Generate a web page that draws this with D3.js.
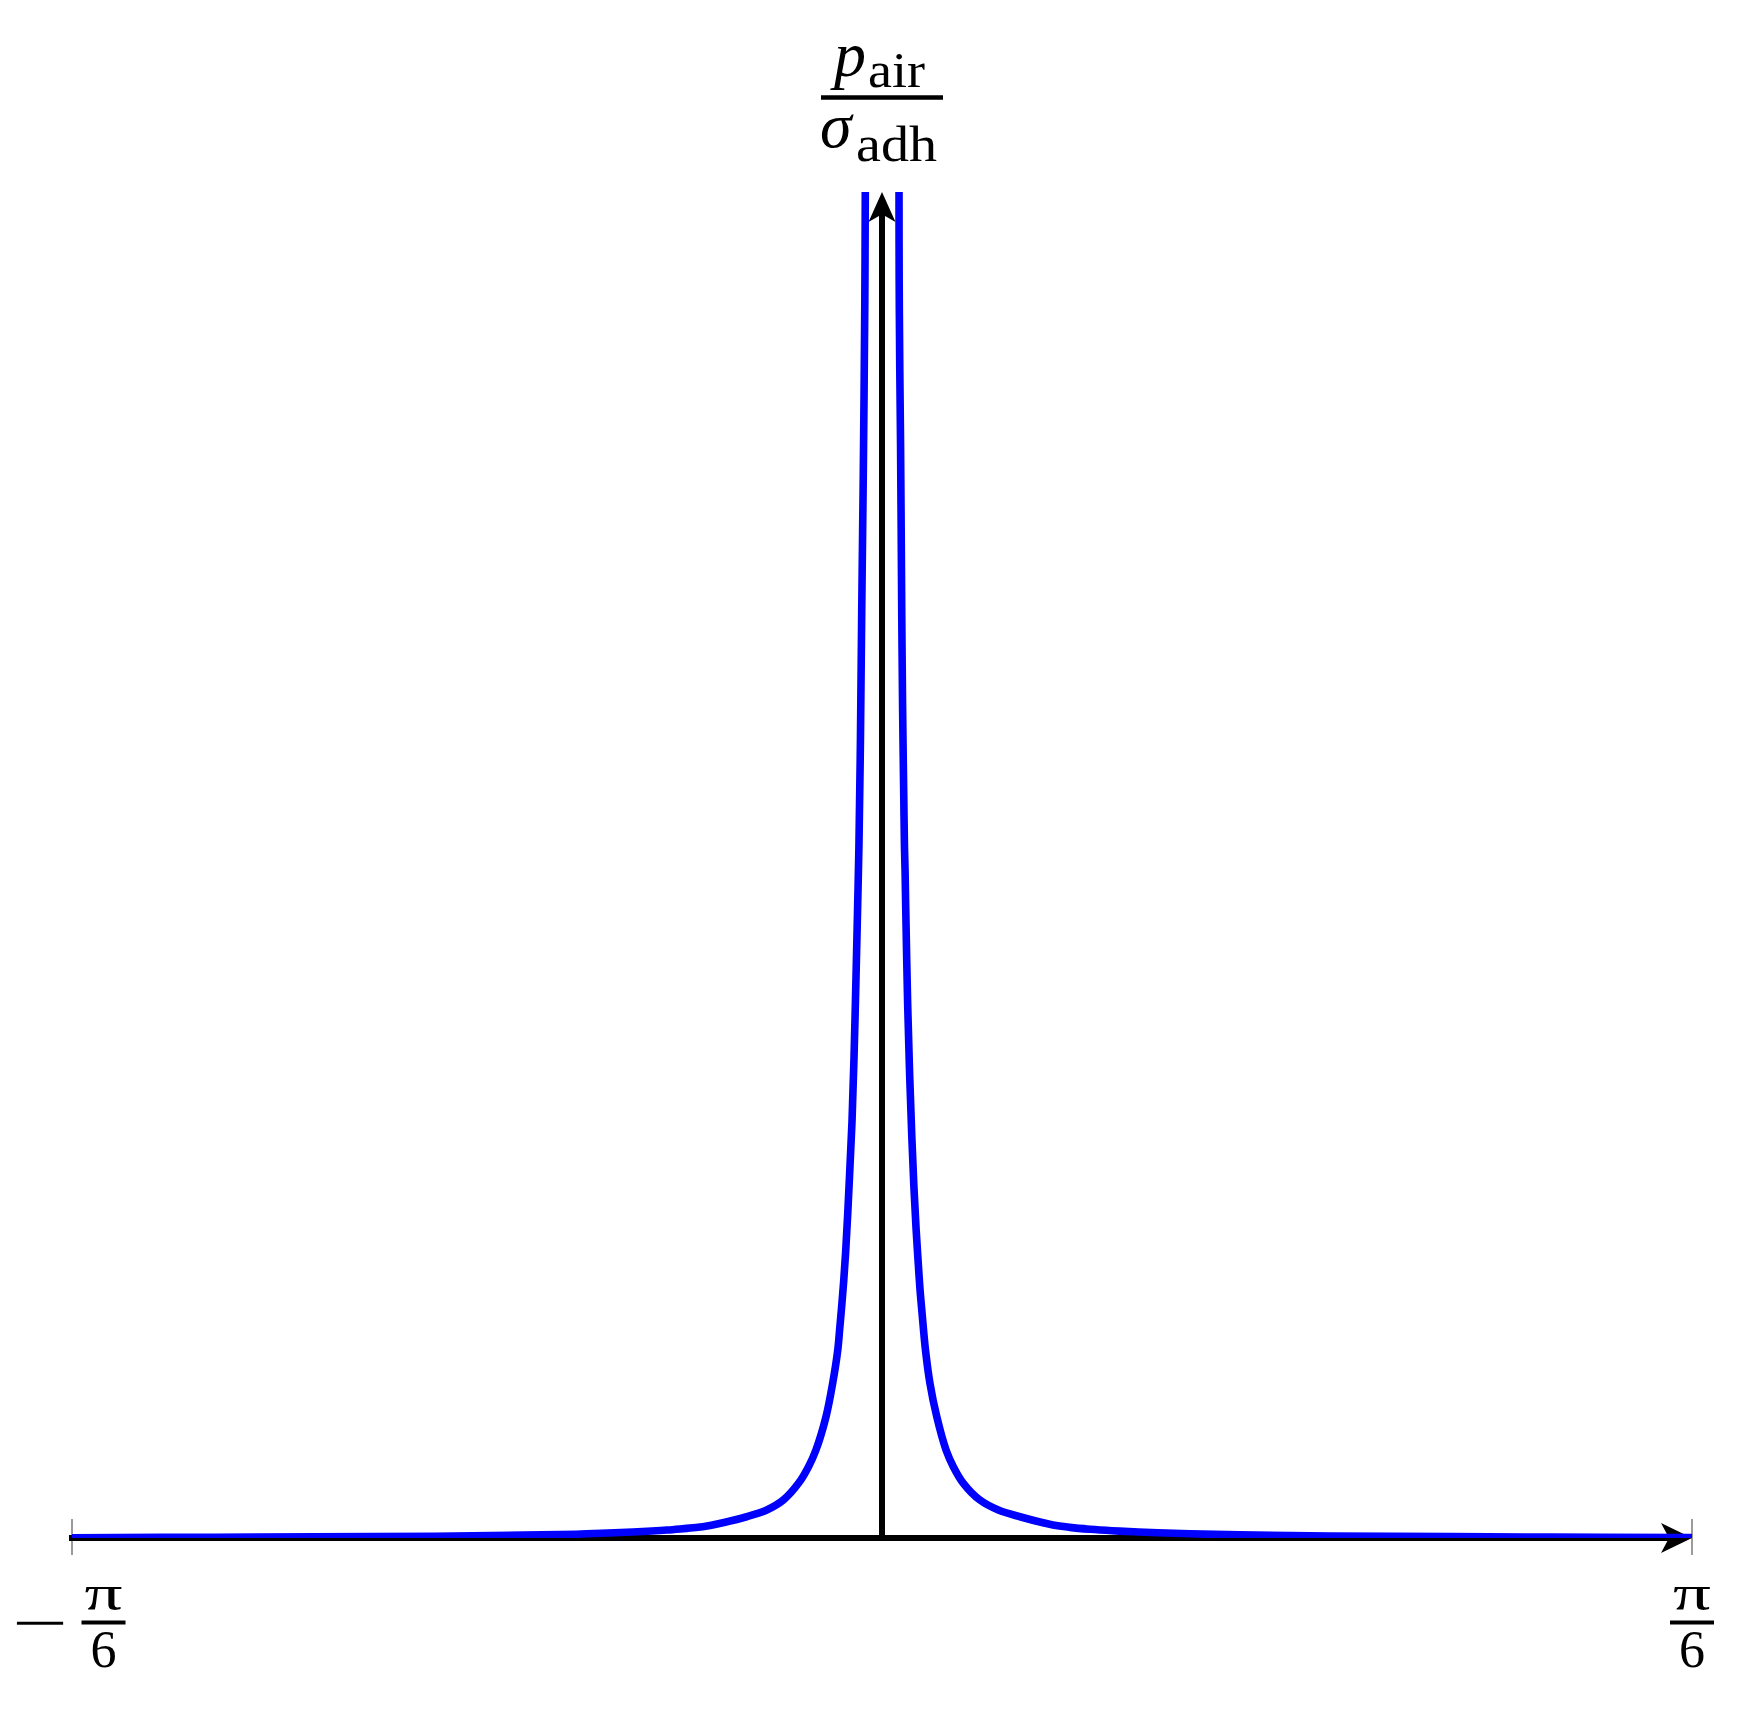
<!DOCTYPE html>
<html>
<head>
<meta charset="utf-8">
<script src="https://cdn.jsdelivr.net/npm/d3@7"></script>
<style>
    html, body { margin: 0; padding: 0; background: #fff; }
    svg { display: block; }
    .math { font-family: "Liberation Serif", "DejaVu Serif", serif; fill: #000; }
</style>
</head>
<body>
<svg id="chart"></svg>
<script>
// angle (rad) vs p_air / sigma_adh.
// pressure is given in % of the visible axis height (the peak runs off the top)
const leftAngle = [-0.5236, -0.4318, -0.2889, -0.2314, -0.1978, -0.1771, -0.1610, -0.1487, -0.1390, -0.1306,
    -0.1241, -0.1176, -0.1131, -0.1073, -0.0875, -0.0745, -0.0638, -0.0540, -0.0475, -0.0427,
    -0.0362, -0.0319, -0.0286, -0.0273, -0.0261, -0.0248, -0.0235, -0.0222, -0.0209, -0.0194,
    -0.0181, -0.0168, -0.0158, -0.0149, -0.0139, -0.0131, -0.0121, -0.0111, -0.0108];
const leftPressure = [0.02, 0.06, 0.13, 0.21, 0.28, 0.37, 0.45, 0.52, 0.59, 0.67,
    0.74, 0.82, 0.89, 1.02, 1.58, 2.08, 2.82, 4.06, 5.30, 6.54,
    9.01, 11.49, 13.97, 15.60, 17.16, 19.02, 21.25, 24.00, 27.12, 30.91,
    35.66, 41.68, 46.66, 51.49, 59.66, 68.95, 78.98, 91.98, 100];

const rightAngle = [0.0110, 0.0111, 0.0115, 0.0120, 0.0124, 0.0128, 0.0133, 0.0137, 0.0141, 0.0145,
    0.0149, 0.0153, 0.0166, 0.0179, 0.0193, 0.0206, 0.0220, 0.0233, 0.0246, 0.0260,
    0.0281, 0.0310, 0.0354, 0.0414, 0.0461, 0.0526, 0.0633, 0.0752, 0.0892, 0.1105,
    0.1215, 0.1345, 0.1487, 0.1629, 0.1784, 0.1991, 0.2314, 0.2896, 0.4318, 0.5236];
const rightPressure = [100, 93.46, 86.78, 81.20, 74.89, 68.20, 61.89, 58.17, 54.83, 51.49,
    49.63, 47.03, 39.60, 34.32, 29.72, 26.15, 23.03, 20.65, 18.42, 16.57,
    13.97, 11.49, 9.01, 6.54, 5.30, 4.06, 2.82, 2.08, 1.58, 0.97,
    0.79, 0.65, 0.54, 0.46, 0.39, 0.31, 0.23, 0.15, 0.07, 0.03];

// x ticks at -pi/6 and pi/6, labels written as fractions
const xTicks = [-Math.PI / 6, Math.PI / 6];
const xTickSigns = ["−", ""];
const xTickNumerators = ["π", "π"];
const xTickDenominators = ["6", "6"];

// y label: p_air over sigma_adh
const yLabelTop = ["p", "air"];
const yLabelBottom = ["σ", "adh"];

class PressurePlot {
    constructor(_config) {
        this.config = {
            parentElement: _config.parentElement,
            containerWidth: _config.containerWidth || 1755,
            containerHeight: _config.containerHeight || 1711,
            margin: _config.margin || {top: 192, right: 63, bottom: 173, left: 72},
        }
        this.initVis();
    }

    initVis() {
        let vis = this;

        vis.width = vis.config.containerWidth - vis.config.margin.left - vis.config.margin.right;
        vis.height = vis.config.containerHeight - vis.config.margin.top - vis.config.margin.bottom;

        vis.xScale = d3.scaleLinear()
            .domain([-Math.PI / 6, Math.PI / 6])
            .range([0, vis.width]);

        vis.yScale = d3.scaleLinear()
            .domain([0, 100])
            .range([vis.height, 0]);

        vis.svg = d3.select(vis.config.parentElement)
            .attr('width', vis.config.containerWidth)
            .attr('height', vis.config.containerHeight);

        vis.svg.append('rect')
            .attr('width', vis.config.containerWidth)
            .attr('height', vis.config.containerHeight)
            .attr('fill', '#fff');

        vis.chart = vis.svg.append('g')
            .attr('transform', `translate(${vis.config.margin.left},${vis.config.margin.top})`);

        // plot area clip, the curve leaves the top and is cut at y = 0
        vis.svg.append('defs').append('clipPath')
            .attr('id', 'plot-clip')
            .append('rect')
            .attr('x', -2)
            .attr('y', 0)
            .attr('width', vis.width + 3)
            .attr('height', vis.height);

        // tick marks only, labels are drawn by hand as fractions
        vis.xAxis = d3.axisBottom(vis.xScale)
            .tickValues(xTicks)
            .tickSize(36)
            .tickSizeOuter(0)
            .tickFormat('')
            .offset(0);

        vis.xAxisG = vis.chart.append('g')
            .attr('class', 'x-axis')
            .attr('transform', `translate(0, ${vis.height - 19})`);

        vis.renderVis();
    }

    renderVis() {
        let vis = this;

        vis.xAxisG.call(vis.xAxis);
        vis.xAxisG.select('.domain').remove();
        vis.xAxisG.selectAll('.tick line')
            .attr('stroke', '#8a8a8a')
            .attr('stroke-width', 1.7);

        // tick labels
        const labels = vis.chart.selectAll('.tick-label')
            .data(xTicks.map((t, i) => i))
            .join('g')
            .attr('class', 'tick-label math');

        labels.each(function(i) {
            const g = d3.select(this);
            const tx = vis.xScale(xTicks[i]);
            const cx = xTickSigns[i] ? tx + 31.5 : tx;
            if (xTickSigns[i]) {
                g.append('text')
                    .attr('x', tx - 60)
                    .attr('y', vis.height + 105)
                    .attr('font-size', 60)
                    .attr('textLength', 56)
                    .attr('lengthAdjust', 'spacingAndGlyphs')
                    .text(xTickSigns[i]);
            }
            g.append('text')
                .attr('x', cx)
                .attr('y', vis.height + 72)
                .attr('text-anchor', 'middle')
                .attr('font-size', 50)
                .attr('textLength', 38)
                .attr('lengthAdjust', 'spacingAndGlyphs')
                .text(xTickNumerators[i]);
            g.append('line')
                .attr('x1', cx - 22)
                .attr('x2', cx + 22)
                .attr('y1', vis.height + 84.5)
                .attr('y2', vis.height + 84.5)
                .attr('stroke', '#000')
                .attr('stroke-width', 4);
            g.append('text')
                .attr('x', cx)
                .attr('y', vis.height + 129)
                .attr('text-anchor', 'middle')
                .attr('font-size', 52)
                .text(xTickDenominators[i]);
        });

        // axis lines
        const x0 = vis.xScale(0);
        vis.chart.append('line')
            .attr('x1', 0).attr('x2', vis.width - 20)
            .attr('y1', vis.yScale(0)).attr('y2', vis.yScale(0))
            .attr('stroke', '#000')
            .attr('stroke-width', 6)
            .attr('stroke-linecap', 'square');

        vis.chart.append('line')
            .attr('x1', x0).attr('x2', x0)
            .attr('y1', vis.yScale(0)).attr('y2', 20)
            .attr('stroke', '#000')
            .attr('stroke-width', 6);

        const arrow = 'M0,0 L-31,-15 L-23,0 L-31,15 Z';
        vis.chart.append('path')
            .attr('d', arrow)
            .attr('transform', `translate(${vis.width},${vis.yScale(0)})`)
            .attr('fill', '#000');
        vis.chart.append('path')
            .attr('d', arrow)
            .attr('transform', `translate(${x0},0) rotate(-90) scale(0.97,0.9)`)
            .attr('fill', '#000');

        // y label as a fraction above the arrow (absolute page coordinates)
        const mt = vis.config.margin.top;
        const top = vis.svg.append('text').attr('class', 'math');
        top.append('tspan').attr('x', 834).attr('y', 76)
            .attr('font-size', 64).attr('font-style', 'italic').text(yLabelTop[0]);
        top.append('tspan').attr('x', 868).attr('y', 87)
            .attr('font-size', 50).attr('textLength', 57).attr('lengthAdjust', 'spacingAndGlyphs')
            .text(yLabelTop[1]);

        vis.chart.append('line')
            .attr('x1', x0 - 61).attr('x2', x0 + 61)
            .attr('y1', 97.5 - mt).attr('y2', 97.5 - mt)
            .attr('stroke', '#000')
            .attr('stroke-width', 4.5);

        const bottom = vis.svg.append('text').attr('class', 'math');
        bottom.append('tspan').attr('x', 820).attr('y', 147)
            .attr('font-size', 64).attr('font-style', 'italic').text(yLabelBottom[0]);
        bottom.append('tspan').attr('x', 856).attr('y', 161)
            .attr('font-size', 50).attr('textLength', 81).attr('lengthAdjust', 'spacingAndGlyphs')
            .text(yLabelBottom[1]);

        // the curve, two branches either side of the peak
        const line = d3.line()
            .x(d => vis.xScale(d[0]))
            .y(d => vis.yScale(d[1]))
            .curve(d3.curveCatmullRom.alpha(0.5));

        const branches = [
            d3.zip(leftAngle, leftPressure),
            d3.zip(rightAngle, rightPressure)
        ];

        vis.chart.append('g')
            .attr('clip-path', 'url(#plot-clip)')
            .selectAll('.branch')
            .data(branches)
            .join('path')
            .attr('class', 'branch')
            .attr('d', line)
            .attr('fill', 'none')
            .attr('stroke', '#0000ff')
            .attr('stroke-width', 7.6)
            .attr('stroke-linejoin', 'round');
    }
}

const plot = new PressurePlot({parentElement: '#chart'});
</script>
</body>
</html>
